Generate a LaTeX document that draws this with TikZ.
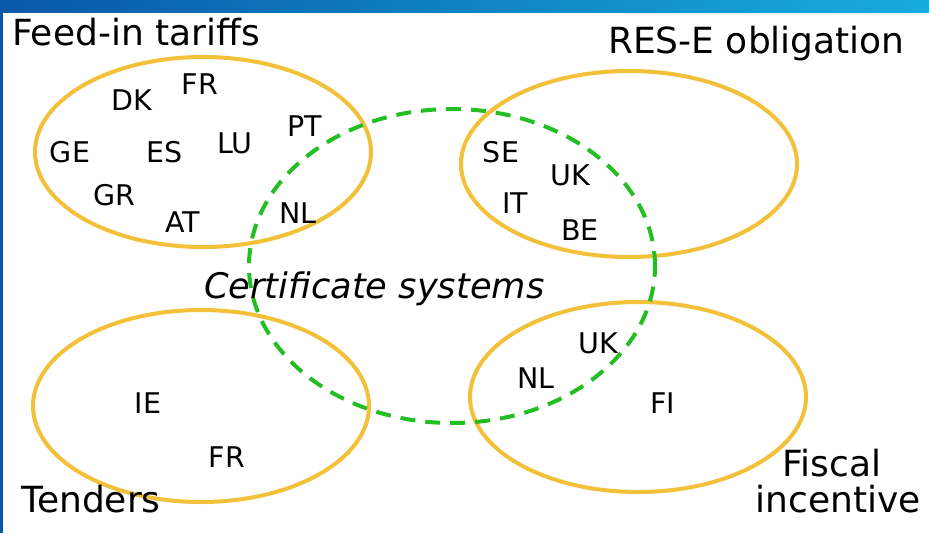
\documentclass[tikz,border=0pt]{standalone}
\usepackage{fontspec}
\setmainfont{DejaVu Sans}
\usepackage{tikz}
\usetikzlibrary{shapes.geometric}
\definecolor{venngold}{RGB}{243,192,58}
\definecolor{venngreen}{RGB}{34,190,34}
\definecolor{bandleft}{RGB}{8,88,168}
\definecolor{bandright}{RGB}{24,172,222}
\tikzset{
    scheme/.style={draw=venngold, line width=4pt, ellipse, inner sep=0pt, minimum width=336pt},
    certset/.style={draw=venngreen, line width=4pt, ellipse, inner sep=0pt, dash pattern=on 15pt off 10pt},
    code/.style={inner sep=0pt, font=\fontsize{28.5}{32}\selectfont},
    heading/.style={inner sep=0pt, anchor=base west, font=\fontsize{36}{40}\selectfont}
}
\begin{document}
\begin{tikzpicture}[x=1pt, y=-1pt]
    \useasboundingbox (0,0) rectangle (929,533);
    \fill[white] (0,0) rectangle (929,533);
    \shade[left color=bandleft, right color=bandright] (0,0) rectangle (929,12);
    \fill[bandleft] (0,0) rectangle (3,533);

    % support schemes
    \node[scheme, minimum height=190pt] (feedin) at (203,152) {};
    \node[scheme, minimum height=186pt] (rese) at (629,164) {};
    \node[scheme, minimum height=192pt] (tender) at (201,406) {};
    \node[scheme, minimum height=190pt] (fiscal) at (638,397) {};
    \node[certset, minimum width=406pt, minimum height=314pt] (cert) at (452,266) {};

    \node[heading] (feedin-lbl) at (12,45) {Feed-in tariffs};
    \node[heading] (rese-lbl) at (608,53) {RES-E obligation};
    \node[heading] (tender-lbl) at (21,512) {Tenders};
    \node[heading, anchor=base] (fiscal-lbl) at (832,476) {Fiscal};
    \node[heading, anchor=base] (fiscal-lbl2) at (838,512) {incentive};
    \node[heading, font=\fontsize{35.2}{40}\selectfont\itshape] (cert-lbl) at (204,298) {Certificate systems};

    % member states
    \node[code] (fi-fr) at (200,84) {FR};
    \node[code] (fi-dk) at (132,100) {DK};
    \node[code] (fi-pt) at (305,126) {PT};
    \node[code] (fi-ge) at (70,152) {GE};
    \node[code] (fi-es) at (165,152) {ES};
    \node[code] (fi-lu) at (235,143) {LU};
    \node[code] (fi-gr) at (114,195) {GR};
    \node[code] (fi-at) at (183,222) {AT};
    \node[code] (fi-nl) at (298,213) {NL};

    \node[code] (ob-se) at (501,152) {SE};
    \node[code] (ob-uk) at (570,175) {UK};
    \node[code] (ob-it) at (515,203) {IT};
    \node[code] (ob-be) at (580,230) {BE};

    \node[code] (te-ie) at (148,403) {IE};
    \node[code] (te-fr) at (227,457) {FR};

    \node[code] (fc-uk) at (598,343) {UK};
    \node[code] (fc-nl) at (536,378) {NL};
    \node[code] (fc-fi) at (663,403) {FI};
\end{tikzpicture}
\end{document}
